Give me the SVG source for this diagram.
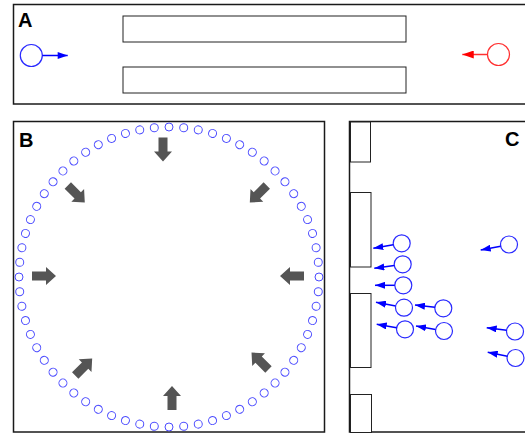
<svg xmlns="http://www.w3.org/2000/svg" xmlns:xlink="http://www.w3.org/1999/xlink" width="525" height="435" viewBox="0 0 525 435">
<style>
.panel{fill:#fff;stroke:#1a1a1a;stroke-width:1.5}
.box{fill:#fff;stroke:#222;stroke-width:1}
.lbl{font-family:"Liberation Sans",Arial,sans-serif;font-weight:bold;font-size:20px;fill:#000}
.ring{fill:none;stroke:#4b4bff;stroke-width:1}
.bc{fill:#fff;stroke:#2a2aff;stroke-width:1.2}
.bl{stroke:#0000ff;stroke-width:1.5;fill:none;marker-end:url(#hb)}
.rc{fill:#fff;stroke:#ff3030;stroke-width:1.2}
.rl{stroke:#ff3030;stroke-width:1.5;fill:none;marker-end:url(#hr)}
.blk{fill:#555}
</style>
<defs>
<marker id="hb" markerUnits="userSpaceOnUse" viewBox="0 0 10 7" markerWidth="10" markerHeight="7" refX="10" refY="3.5" orient="auto"><path d="M0,0L10,3.5L0,7z" fill="#0000ff"/></marker>
<marker id="hr" markerUnits="userSpaceOnUse" viewBox="0 0 10 7" markerWidth="12" markerHeight="8" refX="10" refY="3.5" orient="auto"><path d="M0,0L10,3.5L0,7z" fill="#ff0000"/></marker>
<marker id="hbA" markerUnits="userSpaceOnUse" viewBox="0 0 10 7" markerWidth="12" markerHeight="7" refX="10" refY="3.5" orient="auto"><path d="M0,0L10,3.5L0,7z" fill="#0000ff"/></marker>
<circle id="dot" class="ring" cx="169" cy="127" r="4"/>
<polygon id="blk" class="blk" points="-4.5,-12 4.5,-12 4.5,2 9,2 0,12 -9,2 -4.5,2"/>
</defs>

<g id="panelA">
<rect class="panel" x="13.5" y="4.5" width="520" height="99.5"/>
<text class="lbl" x="18" y="27">A</text>
<rect id="a-bar1" class="box" x="123" y="16" width="283" height="26"/>
<rect id="a-bar2" class="box" x="123" y="67" width="283" height="26"/>
<circle id="a-blue" class="bc" cx="31.3" cy="55.5" r="11"/>
<circle id="a-red" class="rc" cx="498.5" cy="54.5" r="11"/>
</g>

<g id="panelB">
<rect class="panel" x="13.5" y="121.5" width="311" height="310.5"/>
<text class="lbl" x="19" y="147">B</text>
<g id="ring">
<use xlink:href="#dot" transform="rotate(0 169 277)"/><use xlink:href="#dot" transform="rotate(5.625 169 277)"/><use xlink:href="#dot" transform="rotate(11.25 169 277)"/><use xlink:href="#dot" transform="rotate(16.875 169 277)"/>
<use xlink:href="#dot" transform="rotate(22.5 169 277)"/><use xlink:href="#dot" transform="rotate(28.125 169 277)"/><use xlink:href="#dot" transform="rotate(33.75 169 277)"/><use xlink:href="#dot" transform="rotate(39.375 169 277)"/>
<use xlink:href="#dot" transform="rotate(45 169 277)"/><use xlink:href="#dot" transform="rotate(50.625 169 277)"/><use xlink:href="#dot" transform="rotate(56.25 169 277)"/><use xlink:href="#dot" transform="rotate(61.875 169 277)"/>
<use xlink:href="#dot" transform="rotate(67.5 169 277)"/><use xlink:href="#dot" transform="rotate(73.125 169 277)"/><use xlink:href="#dot" transform="rotate(78.75 169 277)"/><use xlink:href="#dot" transform="rotate(84.375 169 277)"/>
<use xlink:href="#dot" transform="rotate(90 169 277)"/><use xlink:href="#dot" transform="rotate(95.625 169 277)"/><use xlink:href="#dot" transform="rotate(101.25 169 277)"/><use xlink:href="#dot" transform="rotate(106.875 169 277)"/>
<use xlink:href="#dot" transform="rotate(112.5 169 277)"/><use xlink:href="#dot" transform="rotate(118.125 169 277)"/><use xlink:href="#dot" transform="rotate(123.75 169 277)"/><use xlink:href="#dot" transform="rotate(129.375 169 277)"/>
<use xlink:href="#dot" transform="rotate(135 169 277)"/><use xlink:href="#dot" transform="rotate(140.625 169 277)"/><use xlink:href="#dot" transform="rotate(146.25 169 277)"/><use xlink:href="#dot" transform="rotate(151.875 169 277)"/>
<use xlink:href="#dot" transform="rotate(157.5 169 277)"/><use xlink:href="#dot" transform="rotate(163.125 169 277)"/><use xlink:href="#dot" transform="rotate(168.75 169 277)"/><use xlink:href="#dot" transform="rotate(174.375 169 277)"/>
<use xlink:href="#dot" transform="rotate(180 169 277)"/><use xlink:href="#dot" transform="rotate(185.625 169 277)"/><use xlink:href="#dot" transform="rotate(191.25 169 277)"/><use xlink:href="#dot" transform="rotate(196.875 169 277)"/>
<use xlink:href="#dot" transform="rotate(202.5 169 277)"/><use xlink:href="#dot" transform="rotate(208.125 169 277)"/><use xlink:href="#dot" transform="rotate(213.75 169 277)"/><use xlink:href="#dot" transform="rotate(219.375 169 277)"/>
<use xlink:href="#dot" transform="rotate(225 169 277)"/><use xlink:href="#dot" transform="rotate(230.625 169 277)"/><use xlink:href="#dot" transform="rotate(236.25 169 277)"/><use xlink:href="#dot" transform="rotate(241.875 169 277)"/>
<use xlink:href="#dot" transform="rotate(247.5 169 277)"/><use xlink:href="#dot" transform="rotate(253.125 169 277)"/><use xlink:href="#dot" transform="rotate(258.75 169 277)"/><use xlink:href="#dot" transform="rotate(264.375 169 277)"/>
<use xlink:href="#dot" transform="rotate(270 169 277)"/><use xlink:href="#dot" transform="rotate(275.625 169 277)"/><use xlink:href="#dot" transform="rotate(281.25 169 277)"/><use xlink:href="#dot" transform="rotate(286.875 169 277)"/>
<use xlink:href="#dot" transform="rotate(292.5 169 277)"/><use xlink:href="#dot" transform="rotate(298.125 169 277)"/><use xlink:href="#dot" transform="rotate(303.75 169 277)"/><use xlink:href="#dot" transform="rotate(309.375 169 277)"/>
<use xlink:href="#dot" transform="rotate(315 169 277)"/><use xlink:href="#dot" transform="rotate(320.625 169 277)"/><use xlink:href="#dot" transform="rotate(326.25 169 277)"/><use xlink:href="#dot" transform="rotate(331.875 169 277)"/>
<use xlink:href="#dot" transform="rotate(337.5 169 277)"/><use xlink:href="#dot" transform="rotate(343.125 169 277)"/><use xlink:href="#dot" transform="rotate(348.75 169 277)"/><use xlink:href="#dot" transform="rotate(354.375 169 277)"/>
</g>
<g id="block-arrows">
<use xlink:href="#blk" transform="translate(163 149.5)"/>
<use xlink:href="#blk" transform="translate(172 398) rotate(180)"/>
<use xlink:href="#blk" transform="translate(44 276) rotate(-90)"/>
<use xlink:href="#blk" transform="translate(292 276) rotate(90)"/>
<use xlink:href="#blk" transform="translate(76.3 194) rotate(-45)"/>
<use xlink:href="#blk" transform="translate(258.3 194) rotate(45)"/>
<use xlink:href="#blk" transform="translate(83.7 367) rotate(-135)"/>
<use xlink:href="#blk" transform="translate(260 361) rotate(135)"/>
</g>
</g>

<g id="panelC">
<rect class="panel" x="349.5" y="121.5" width="200" height="310.5"/>
<text class="lbl" x="505" y="146">C</text>
<rect id="c-wall1" class="box" x="350.5" y="122" width="20" height="40"/>
<rect id="c-wall2" class="box" x="350.5" y="192.5" width="20.5" height="74.5"/>
<rect id="c-wall3" class="box" x="350.5" y="293.5" width="20.5" height="74"/>
<rect id="c-wall4" class="box" x="350.5" y="394.5" width="21" height="38"/>
<circle id="c1" class="bc" cx="401.7" cy="243.3" r="8.5"/>
<circle id="c2" class="bc" cx="402.7" cy="264.3" r="8.5"/>
<circle id="c3" class="bc" cx="403.3" cy="285.3" r="8.5"/>
<circle id="c4" class="bc" cx="404" cy="307.7" r="8.5"/>
<circle id="c5" class="bc" cx="405" cy="329.3" r="8.5"/>
<circle id="c6" class="bc" cx="443.3" cy="308.3" r="8.5"/>
<circle id="c7" class="bc" cx="444" cy="331" r="8.5"/>
<circle id="c8" class="bc" cx="509" cy="244.5" r="8.5"/>
<circle id="c9" class="bc" cx="515" cy="331.5" r="8.5"/>
<circle id="c10" class="bc" cx="515.5" cy="358" r="8.5"/>
</g>

<g id="connectors">
<line class="bl" style="marker-end:url(#hbA)" x1="42.3" y1="55.5" x2="67.7" y2="55.5"/>
<line class="rl" x1="487.5" y1="54.5" x2="462.3" y2="54.5"/>
<line class="bl" x1="393.3" y1="244.8" x2="373.3" y2="248.3"/>
<line class="bl" x1="394.3" y1="265.5" x2="374.3" y2="268.3"/>
<line class="bl" x1="394.8" y1="285.3" x2="375" y2="285.3"/>
<line class="bl" x1="395.7" y1="306.1" x2="376" y2="302.3"/>
<line class="bl" x1="396.6" y1="327.8" x2="376.7" y2="324.3"/>
<line class="bl" x1="434.9" y1="307.3" x2="415" y2="305"/>
<line class="bl" x1="435.6" y1="329.5" x2="416" y2="326"/>
<line class="bl" x1="500.7" y1="246.3" x2="480.7" y2="250"/>
<line class="bl" x1="506.6" y1="330.3" x2="486.7" y2="327.7"/>
<line class="bl" x1="507.4" y1="356.2" x2="487.7" y2="352.3"/>
</g>
</svg>
